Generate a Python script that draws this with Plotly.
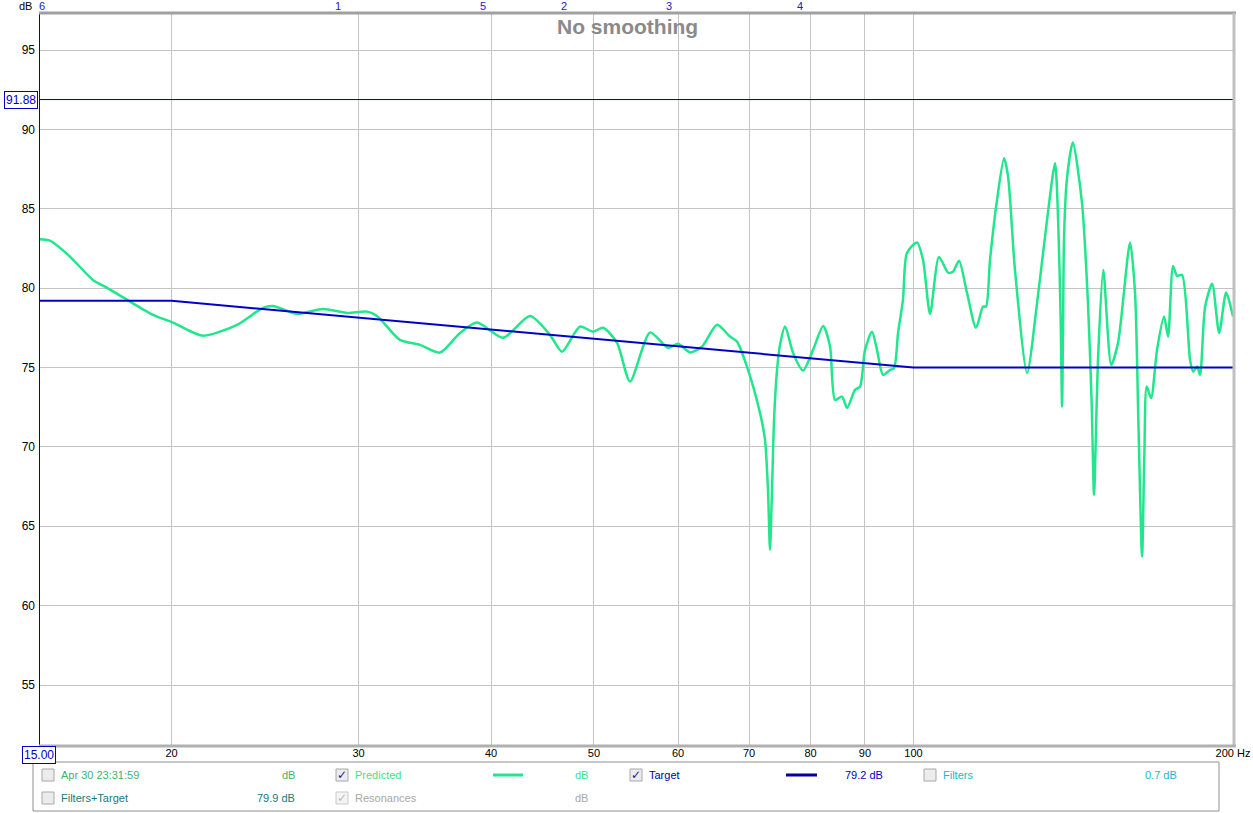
import plotly.graph_objects as go
import numpy as np

# ---------------- data ----------------
pred_freq = [15.0, 15.36, 16.04, 16.86, 17.39, 18.16, 19.21, 20.06, 21.40, 23.05, 24.38, 24.92,
             26.25, 27.78, 29.26, 30.56, 31.23, 32.82, 34.28, 35.80, 37.39, 38.80, 41.05, 43.52,
             45.45, 46.65, 48.51, 49.89, 51.00, 52.57, 54.07, 56.47, 58.72, 60.00, 61.59, 63.22,
             65.30, 67.16, 68.19, 69.68, 71.68, 72.46, 72.93, 73.25, 73.57, 73.90, 74.38, 74.86,
             75.69, 77.01, 78.69, 80.42, 82.20, 83.44, 84.35, 85.63, 86.58, 88.09, 89.05, 90.02,
             91.40, 92.39, 93.61, 95.05, 95.87, 96.71, 97.74, 98.60, 100.76, 102.09, 103.66,
             105.69, 107.78, 108.95, 110.39, 112.31, 114.53, 116.29, 117.04, 118.06, 119.87,
             121.71, 122.78, 124.63, 127.95, 130.75, 133.61, 135.95, 136.86, 137.62, 138.03,
             138.35, 138.63, 139.47, 141.28, 144.13, 146.01, 147.19, 147.94, 148.80, 149.31,
             150.94, 153.57, 155.92, 159.97, 161.71, 162.87, 164.19, 165.02, 165.86, 167.44,
             169.61, 172.21, 173.72, 175.61, 177.15, 179.08, 182.21, 183.43, 185.00, 186.20,
             188.26, 191.15, 194.08, 197.05, 200.0]
pred_db = [83.08, 82.99, 81.99, 80.52, 80.02, 79.26, 78.32, 77.83, 77.01, 77.69, 78.76, 78.88,
           78.38, 78.69, 78.44, 78.52, 78.25, 76.74, 76.43, 75.94, 77.18, 77.83, 76.87, 78.25,
           77.06, 76.00, 77.58, 77.26, 77.50, 76.55, 74.12, 77.20, 76.24, 76.49, 75.95, 76.32,
           77.69, 76.95, 76.63, 75.06, 72.14, 70.44, 67.30, 63.52, 67.30, 71.70, 74.85, 76.43,
           77.58, 75.92, 74.81, 76.11, 77.62, 76.32, 72.96, 73.17, 72.46, 73.59, 73.80, 76.11,
           77.26, 76.11, 74.54, 74.85, 74.96, 77.18, 79.26, 82.22, 82.87, 81.78, 78.38,
           81.97, 80.98, 81.04, 81.73, 79.70, 77.50, 78.84, 78.84, 81.78, 85.56,
           88.18, 87.02, 81.15, 74.66, 79.07, 84.30, 87.87, 84.30, 78.00, 72.54,
           78.00, 83.25, 86.82, 89.17, 85.37, 79.07, 72.75, 66.98, 72.75, 75.92,
           81.15, 75.17, 76.63, 82.87, 79.70, 71.70, 63.09, 69.61, 73.80, 73.07,
           76.11, 78.21, 76.95, 81.40, 80.77, 80.83, 75.48, 74.74, 75.06, 74.54,
           78.84, 80.27, 77.18, 79.72, 78.21]

target_freq = [15.0, 20.0, 100.0, 200.0]
target_db = [79.2, 79.2, 75.0, 75.0]

cursor_freq = 15.00
cursor_db = 91.88

x_ticks = [20, 30, 40, 50, 60, 70, 80, 90, 100, 200]
x_ticktext = ["20", "30", "40", "50", "60", "70", "80", "90", "100", "200 Hz"]
y_ticks = [55, 60, 65, 70, 75, 80, 85, 90, 95]

filter_labels = ["6", "1", "5", "2", "3", "4"]
filter_freqs = [15.1, 28.69, 39.30, 46.85, 58.85, 78.18]

title_text = "No smoothing"

# ---------------- layout helpers ----------------
W, H = 1253, 813
ML, MR, MT, MB = 39, 20, 14, 68
PW, PH = W - ML - MR, H - MT - MB


def px(x):
    return (x - ML) / PW


def py(y):
    return (H - MB - y) / PH


FONT = "Liberation Sans, Arial, sans-serif"
GREEN = "#22e68c"
BLUE = "#0000c8"

fig = go.Figure()
fig.add_trace(go.Scatter(x=pred_freq, y=pred_db, mode="lines",
                         line=dict(color=GREEN, width=2.5, shape="spline", smoothing=0.7),
                         hoverinfo="skip", showlegend=False))
fig.add_trace(go.Scatter(x=target_freq, y=target_db, mode="lines",
                         line=dict(color=BLUE, width=2), hoverinfo="skip", showlegend=False))

shapes = []
annotations = []

# cursor lines
shapes.append(dict(type="line", xref="paper", yref="y", x0=0, x1=1, y0=cursor_db, y1=cursor_db,
                   line=dict(color="#00008c", width=1)))
shapes.append(dict(type="line", xref="x", yref="paper", x0=cursor_freq, x1=cursor_freq,
                   y0=py(761), y1=1, line=dict(color="#0000c0", width=2)))

# frame with shadow
shapes.append(dict(type="line", xref="paper", yref="paper", x0=px(ML), x1=px(ML + PW + 3),
                   y0=py(MT - 1), y1=py(MT - 1), line=dict(color="#a0a0a0", width=3)))
shapes.append(dict(type="line", xref="paper", yref="paper", x0=px(ML + PW + 1), x1=px(ML + PW + 1),
                   y0=py(MT - 1), y1=py(H - MB + 2), line=dict(color="#c0c0c0", width=3)))
shapes.append(dict(type="line", xref="paper", yref="paper", x0=px(ML), x1=px(ML + PW + 3),
                   y0=py(H - MB + 1), y1=py(H - MB + 1), line=dict(color="#b0b0b0", width=3)))

# cursor value boxes
annotations.append(dict(xref="paper", yref="y", x=px(38), y=cursor_db, text=f"{cursor_db:.2f}",
                        showarrow=False, xanchor="right", yanchor="middle",
                        font=dict(family=FONT, size=12, color="#0000c0"),
                        bordercolor="#0000c0", borderwidth=1, borderpad=1, bgcolor="white"))
annotations.append(dict(xref="x", yref="paper", x=np.log10(cursor_freq), y=py(746),
                        text=f"{cursor_freq:.2f}", showarrow=False, xanchor="center", yanchor="top",
                        font=dict(family=FONT, size=12, color="#0000c0"),
                        bordercolor="#0000c0", borderwidth=1, borderpad=1, bgcolor="white"))

# dB label
annotations.append(dict(xref="paper", yref="paper", x=px(34), y=py(6), text="dB", showarrow=False,
                        xanchor="right", yanchor="middle", font=dict(family=FONT, size=11, color="black")))

# filter markers along top
for lab, f in zip(filter_labels, filter_freqs):
    annotations.append(dict(xref="x", yref="paper", x=np.log10(f), y=py(6), text=lab,
                            showarrow=False, xanchor="center", yanchor="middle",
                            font=dict(family=FONT, size=11, color="#2020c0")))

# title
annotations.append(dict(xref="paper", yref="paper", x=px(627), y=py(27), text=f"<b>{title_text}</b>",
                        showarrow=False, xanchor="center", yanchor="middle",
                        font=dict(family=FONT, size=21, color="#8a8a8a")))

# legend panel
shapes.append(dict(type="rect", xref="paper", yref="paper", x0=px(33), x1=px(1219),
                   y0=py(811), y1=py(762), line=dict(color="#909090", width=1), fillcolor="white"))


def checkbox(x, y, checked=False, gray=False):
    shapes.append(dict(type="rect", xref="paper", yref="paper", x0=px(x - 6), x1=px(x + 6),
                       y0=py(y + 6), y1=py(y - 6),
                       line=dict(color="#a8a8a8" if not gray else "#c8c8c8", width=1),
                       fillcolor="#ececec" if not gray else "#f4f4f4"))
    if checked:
        annotations.append(dict(xref="paper", yref="paper", x=px(x), y=py(y), text="✓",
                                showarrow=False, xanchor="center", yanchor="middle",
                                font=dict(family="DejaVu Sans", size=12,
                                          color="#b8b8b8" if gray else "#202080")))


def ltext(x, y, t, color, anchor="left"):
    annotations.append(dict(xref="paper", yref="paper", x=px(x), y=py(y), text=t, showarrow=False,
                            xanchor=anchor, yanchor="middle",
                            font=dict(family=FONT, size=11, color=color)))


r1, r2 = 775, 798
checkbox(48, r1)
ltext(59, r1, "Apr 30 23:31:59", "#3cb371")
ltext(297, r1, "dB", "#3cb371", "right")
checkbox(342, r1, checked=True)
ltext(353, r1, "Predicted", "#3ee08e")
shapes.append(dict(type="line", xref="paper", yref="paper", x0=px(493), x1=px(523), y0=py(r1), y1=py(r1),
                   line=dict(color=GREEN, width=3)))
ltext(590, r1, "dB", "#3ee08e", "right")
checkbox(636, r1, checked=True)
ltext(647, r1, "Target", "#0000a0")
shapes.append(dict(type="line", xref="paper", yref="paper", x0=px(786), x1=px(817), y0=py(r1), y1=py(r1),
                   line=dict(color="#0000a0", width=3)))
ltext(885, r1, "79.2 dB", "#0000c0", "right")
checkbox(930, r1)
ltext(941, r1, "Filters", "#20b8c8")
ltext(1179, r1, "0.7 dB", "#20b8c8", "right")

checkbox(48, r2)
ltext(59, r2, "Filters+Target", "#207878")
ltext(297, r2, "79.9 dB", "#207878", "right")
checkbox(342, r2, checked=True, gray=True)
ltext(353, r2, "Resonances", "#a8a8a8")
ltext(590, r2, "dB", "#a8a8a8", "right")

fig.update_layout(
    width=W, height=H, autosize=False,
    margin=dict(l=ML, r=MR, t=MT, b=MB, pad=0, autoexpand=False),
    paper_bgcolor="white", plot_bgcolor="white",
    showlegend=False,
    shapes=shapes, annotations=annotations,
    font=dict(family=FONT, size=11, color="black"),
)
fig.update_xaxes(type="log", range=[np.log10(15), np.log10(200)], tickvals=x_ticks, ticktext=x_ticktext,
                 showgrid=True, gridcolor="#c4c4c4", gridwidth=1, zeroline=False, showline=False,
                 ticks="", automargin=False, tickfont=dict(family=FONT, size=11, color="black"))
fig.update_yaxes(range=[51.22, 97.27], tickvals=y_ticks, showgrid=True, gridcolor="#c4c4c4", gridwidth=1,
                 zeroline=False, showline=False, ticks="", ticklabelstandoff=3, automargin=False,
                 tickfont=dict(family=FONT, size=12, color="black"))

post = "document.body.style.margin='0';document.body.style.overflow='hidden';"
fig.write_html("out.html", config={"displayModeBar": False, "responsive": False}, post_script=post)
